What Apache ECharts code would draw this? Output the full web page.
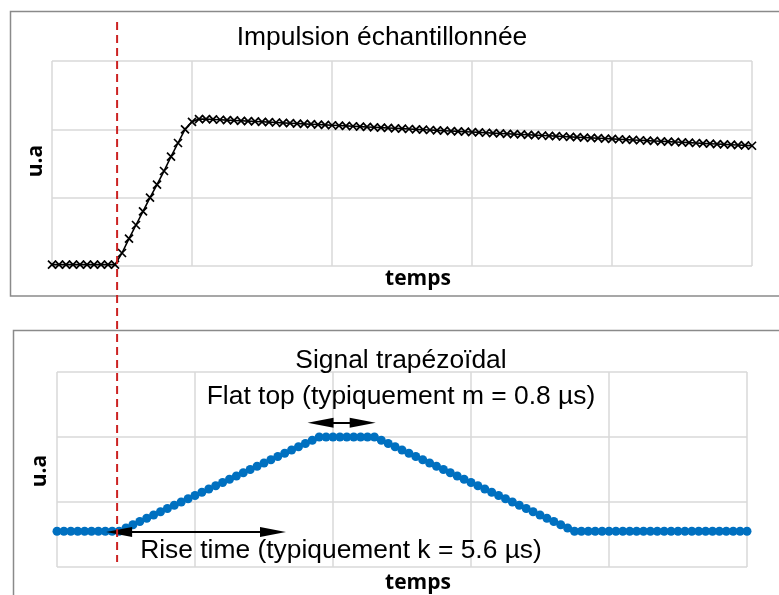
<!DOCTYPE html>
<html>
<head>
<meta charset="utf-8">
<script src="https://cdn.jsdelivr.net/npm/echarts@6/dist/echarts.min.js"></script>
<style>
  html, body { margin: 0; padding: 0; background: #fff; }
  #chart { width: 779px; height: 595px; }
</style>
</head>
<body>
<div id="chart"></div>
<script>
// ---- data ----
const topTitle = 'Impulsion échantillonnée';
const bottomTitle = 'Signal trapézoïdal';
const xName = 'temps';
const yName = 'u.a';
const flatTopText = 'Flat top (typiquement m = 0.8 µs)';
const riseTimeText = 'Rise time (typiquement k = 5.6 µs)';

// sampled pulse (one value per sample, index = time step)
const pulseValues = [
  0.02,0.02,0.02,0.02,0.02,0.02,0.02,0.02,0.02,0.02,
  0.19,0.40,0.60,0.80,1.00,1.19,1.39,1.60,1.80,2.00,
  2.11,2.15,2.15,2.145,2.14,2.135,2.13,2.125,2.12,2.115,
  2.11,2.105,2.10,2.095,2.09,2.085,2.08,2.075,2.07,2.065,
  2.06,2.055,2.05,2.045,2.04,2.035,2.03,2.025,2.02,2.015,
  2.01,2.005,2.00,1.995,1.99,1.985,1.98,1.975,1.97,1.965,
  1.96,1.955,1.95,1.945,1.94,1.935,1.93,1.925,1.92,1.915,
  1.91,1.905,1.90,1.895,1.89,1.885,1.88,1.875,1.87,1.865,
  1.86,1.855,1.85,1.845,1.84,1.835,1.83,1.825,1.82,1.815,
  1.81,1.805,1.80,1.795,1.79,1.785,1.78,1.775,1.77,1.765,
  1.76
];

// trapezoidal signal
const trapValues = [
  0.55,0.55,0.55,0.55,0.55,0.55,0.55,0.55,0.55,0.55,
  0.60,0.65,0.70,0.75,0.80,0.85,0.90,0.95,1.00,1.05,
  1.10,1.15,1.20,1.25,1.30,1.35,1.40,1.45,1.50,1.55,
  1.60,1.65,1.70,1.75,1.80,1.85,1.90,1.95,2.00,2.00,
  2.00,2.00,2.00,2.00,2.00,2.00,2.00,1.95,1.90,1.85,
  1.80,1.75,1.70,1.65,1.60,1.55,1.50,1.45,1.40,1.35,
  1.30,1.25,1.20,1.15,1.10,1.05,1.00,0.95,0.90,0.85,
  0.80,0.75,0.70,0.65,0.60,0.55,0.55,0.55,0.55,0.55,
  0.55,0.55,0.55,0.55,0.55,0.55,0.55,0.55,0.55,0.55,
  0.55,0.55,0.55,0.55,0.55,0.55,0.55,0.55,0.55,0.55,
  0.55
];

// annotations (data coordinates)
const pulseStartX = 9.3;              // red dashed marker (top x axis)
const flatArrow = [38.2, 44.3, 2.22]; // x from, x to, y (bottom chart)
const riseArrow = [9.0, 31.3, 0.54];

// ---- chart ----
const chart = echarts.init(document.getElementById('chart'), null, { renderer: 'canvas' });

const gridLine = { show: true, lineStyle: { color: '#d9d9d9', width: 1.5 } };
function xAx(gi) {
  return { type: 'value', gridIndex: gi, min: 0, max: 100, interval: 20,
    axisLine: { show: false }, axisTick: { show: false }, axisLabel: { show: false },
    splitLine: gridLine };
}
function yAx(gi) {
  return { type: 'value', gridIndex: gi, min: 0, max: 3, interval: 1,
    axisLine: { show: false }, axisTick: { show: false }, axisLabel: { show: false },
    splitLine: gridLine };
}

const titleFont = { fontFamily: '"Liberation Sans", Arial, sans-serif', fontSize: 26.4, fill: '#000' };
const boldFont = { fontFamily: '"Open Sans", sans-serif', fontSize: 21, fontWeight: 'bold', fill: '#000' };

function txt(id, text, x, y, font, rot) {
  return { type: 'text', id: id, x: x, y: y, rotation: rot || 0, z: 10,
    style: Object.assign({ text: text, textAlign: 'center', textVerticalAlign: 'middle' }, font) };
}

const option = {
  animation: false,
  backgroundColor: '#fff',
  grid: [
    { left: 52, top: 61, width: 700, height: 205 },
    { left: 57, top: 372, width: 690, height: 195 }
  ],
  xAxis: [xAx(0), xAx(1)],
  yAxis: [yAx(0), yAx(1)],
  series: [
    {
      type: 'line', xAxisIndex: 0, yAxisIndex: 0,
      data: pulseValues.map((v, i) => [i, v]),
      symbol: 'path://M0,0L10,10M10,0L0,10',
      symbolSize: 8,
      showAllSymbol: true,
      lineStyle: { color: '#000', width: 1.6 },
      itemStyle: { color: '#000', borderColor: '#000', borderWidth: 1.7 }
    },
    {
      type: 'line', xAxisIndex: 1, yAxisIndex: 1,
      data: trapValues.map((v, i) => [i, v]),
      symbol: 'circle',
      symbolSize: 9,
      showAllSymbol: true,
      lineStyle: { color: '#0070c0', width: 3 },
      itemStyle: { color: '#0070c0' },
      markLine: {
        silent: true,
        symbol: ['triangle', 'triangle'],
        symbolSize: [10, 26],
        label: { show: false },
        lineStyle: { color: '#000', width: 1.8, type: 'solid' },
        data: [
          [{ coord: [flatArrow[0], flatArrow[2]] }, { coord: [flatArrow[1], flatArrow[2]] }],
          [{ coord: [riseArrow[0], riseArrow[2]] }, { coord: [riseArrow[1], riseArrow[2]] }]
        ]
      }
    }
  ],
  graphic: [
    { type: 'rect', id: 'box1', shape: { x: 10.5, y: 11.5, width: 800, height: 284.5 },
      style: { fill: 'none', stroke: '#8a8a8a', lineWidth: 1.5 }, z: 0 },
    { type: 'rect', id: 'box2', shape: { x: 13.5, y: 330.5, width: 800, height: 300 },
      style: { fill: 'none', stroke: '#8a8a8a', lineWidth: 1.5 }, z: 0 },
    txt('t1', topTitle, 382, 38, titleFont),
    txt('t2', bottomTitle, 401, 361, titleFont),
    txt('a1', flatTopText, 401, 397, titleFont),
    txt('a2', riseTimeText, 341, 551, titleFont),
    txt('x1', xName, 418, 279, boldFont),
    txt('x2', xName, 418, 583, boldFont),
    txt('y1', yName, 36, 161, boldFont, Math.PI / 2),
    txt('y2', yName, 40, 471, boldFont, Math.PI / 2)
  ]
};
chart.setOption(option);

const redX = chart.convertToPixel({ xAxisIndex: 0 }, pulseStartX);
chart.setOption({
  graphic: [
    { type: 'line', id: 'redDash', z: 20,
      shape: { x1: redX, y1: 22, x2: redX, y2: 562 },
      style: { stroke: '#cc2222', lineWidth: 2, lineDash: [8, 5] } }
  ]
});
</script>
</body>
</html>
